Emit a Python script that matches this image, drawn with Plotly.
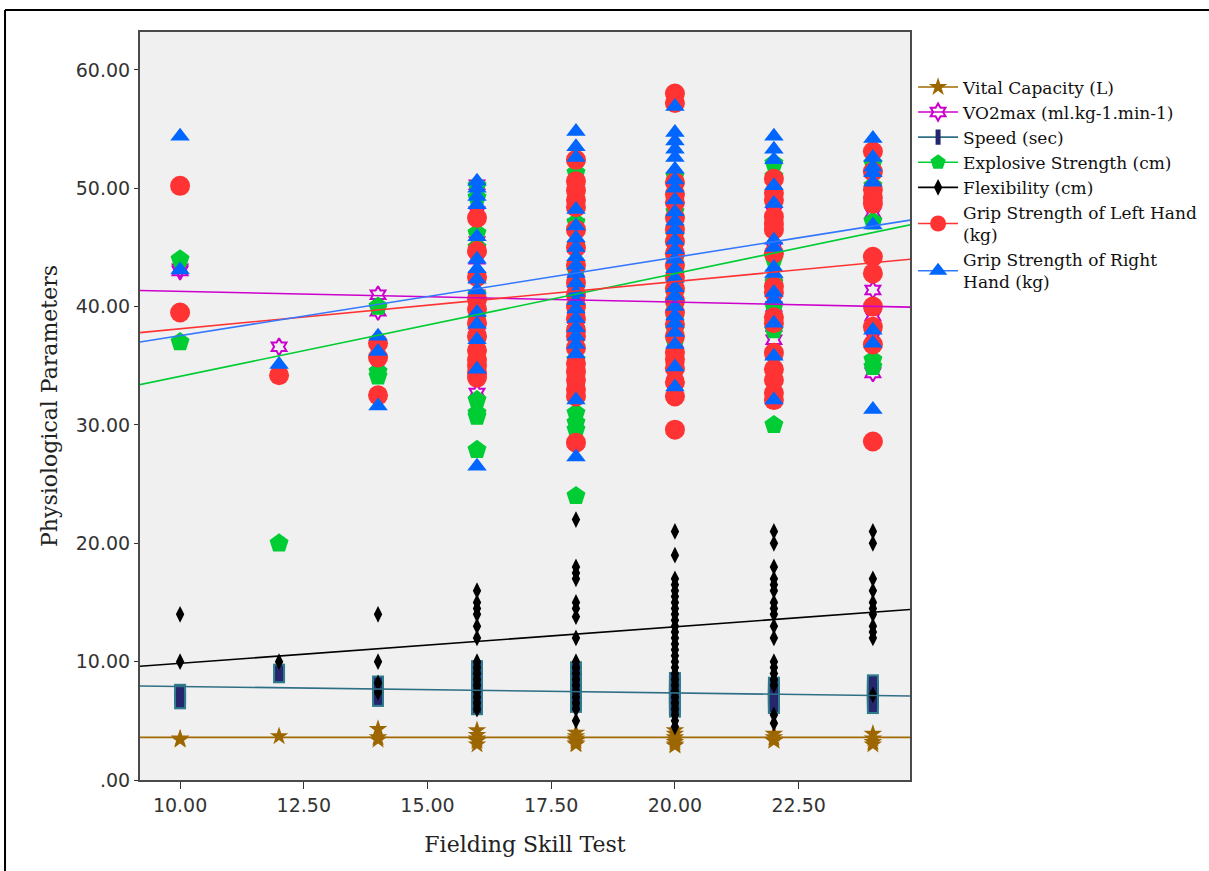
import plotly.graph_objects as go

# ---------------- data ----------------
fielding_levels = [10, 12, 14, 16, 18, 20, 22, 24]

vital_capacity = [
    [3.4, 3.5],
    [3.7],
    [4.3, 3.4, 3.6],
    [4.2, 3.8, 3.5, 3.3, 3.0],
    [4.0, 3.7, 3.5, 3.3, 3.1, 3.0],
    [4.2, 3.9, 3.6, 3.4, 3.2, 3.0, 2.9],
    [3.9, 3.6, 3.4, 3.3],
    [3.9, 3.5, 3.2, 3.0],
]

vo2max = [
    [43.0, 43.2],
    [36.6],
    [41.0, 39.6, 35.0],
    [50.3, 48.0, 45.5, 44.0, 42.5, 41.0, 40.0, 38.5, 37.5, 36.0, 35.0, 32.7],
    [50.0, 47.0, 45.0, 43.0, 42.0, 41.0, 40.0, 39.0, 38.0, 37.0, 36.0, 34.5, 33.0],
    [50.0, 47.0, 45.0, 43.0, 42.0, 41.0, 40.0, 39.0, 38.0, 37.0, 36.0, 35.0, 34.4, 34.1],
    [48.0, 45.0, 42.0, 40.0, 38.3, 37.2, 36.0],
    [47.9, 41.4, 39.2, 37.5, 34.4],
]

speed = [
    [6.8, 7.3],
    [9.0],
    [8.0, 7.5, 7.0],
    [9.3, 9.0, 8.5, 8.0, 7.5, 7.2, 7.0, 6.8, 6.5, 6.3],
    [9.2, 8.8, 8.3, 8.0, 7.6, 7.2, 7.0, 6.8, 6.5],
    [8.3, 8.0, 7.6, 7.3, 7.0, 6.7, 6.4, 6.1],
    [7.9, 7.5, 7.2, 6.9, 6.6, 6.4],
    [8.1, 7.6, 7.2, 6.8, 6.4],
]

explosive_strength = [
    [44.0, 37.0],
    [20.0],
    [40.0, 34.1, 34.5],
    [50.2, 49.2, 46.2, 45.0, 41.0, 39.0, 36.0, 32.1, 31.0, 30.7, 27.9],
    [51.3, 47.1, 45.0, 43.0, 42.0, 40.0, 38.0, 36.5, 35.5, 31.0, 30.2, 29.6, 24.0],
    [51.0, 48.0, 46.0, 44.0, 43.0, 42.0, 41.0, 40.0, 39.0, 38.0, 37.0, 36.0, 35.0],
    [52.1, 51.0, 47.0, 44.0, 42.0, 40.0, 38.0, 36.0, 30.0],
    [52.1, 50.2, 47.2, 35.5, 34.9],
]

flexibility = [
    [14.0, 10.0],
    [10.0],
    [14.0, 10.0, 8.2, 7.4],
    [16.0, 15.0, 14.5, 14.0, 13.0, 12.0, 10.0, 9.5, 9.0, 8.5, 8.0, 7.5, 7.0, 6.5, 6.0],
    [22.0, 18.0, 17.5, 17.0, 15.0, 14.5, 13.8, 12.0, 10.0, 9.5, 9.0, 8.5, 8.0, 7.5, 7.0, 6.5, 6.0, 5.0],
    [21.0, 19.0, 17.0, 16.5, 16.0, 15.5, 15.0, 14.5, 14.0, 13.5, 13.0, 12.5, 12.0, 11.5, 11.0,
     10.5, 10.0, 9.5, 9.0, 8.5, 8.0, 7.5, 7.0, 6.5, 6.0, 5.5, 5.0, 4.5],
    [21.0, 20.0, 18.0, 17.0, 16.5, 16.0, 15.0, 14.5, 14.0, 13.0, 12.0, 10.0, 9.5, 9.0, 8.5, 8.0, 5.5, 4.8],
    [21.0, 20.0, 17.0, 16.0, 15.0, 14.5, 14.0, 13.0, 12.5, 12.0, 7.2],
]

grip_left = [
    [50.2, 39.5],
    [34.2],
    [36.9, 35.7, 32.5],
    [47.5, 44.7, 42.5, 40.6, 39.8, 38.6, 37.5, 36.3, 35.5, 35.0, 34.4, 34.0],
    [52.4, 50.6, 49.8, 49.0, 48.4, 46.5, 45.0, 43.5, 42.0, 41.0, 40.0, 39.0, 38.0, 37.5,
     36.5, 35.2, 34.5, 33.8, 33.0, 32.4, 28.5],
    [58.0, 57.2, 50.5, 49.5, 48.8, 47.5, 46.5, 45.5, 44.5, 43.5, 42.5, 41.5, 40.5, 39.5,
     38.5, 37.5, 36.1, 35.5, 34.8, 33.6, 32.4, 29.6],
    [50.8, 49.6, 49.0, 47.6, 47.0, 46.5, 44.5, 41.7, 41.2, 39.1, 38.6, 36.1, 34.7, 33.8, 32.7, 32.1],
    [53.1, 51.4, 49.9, 49.2, 48.7, 44.2, 42.8, 40.0, 38.3, 36.8, 28.6],
]

grip_right = [
    [54.4, 43.1],
    [35.1],
    [37.5, 36.2, 31.6],
    [50.6, 50.0, 49.3, 48.6, 45.9, 44.0, 43.2, 42.3, 41.4, 39.5, 38.5, 37.2, 34.7, 26.5],
    [54.8, 53.5, 52.6, 48.2, 46.8, 45.8, 45.0, 44.2, 43.5, 42.8, 42.0, 41.2, 40.5, 39.8,
     39.0, 38.2, 37.5, 36.8, 36.0, 32.1, 27.3],
    [56.9, 54.7, 54.0, 53.3, 52.6, 51.6, 50.7, 50.0, 49.0, 48.0, 47.2, 46.5, 45.6, 44.8,
     44.0, 43.2, 42.4, 41.6, 40.9, 40.0, 39.2, 38.6, 37.8, 36.8, 34.9, 33.2],
    [54.4, 53.3, 52.4, 50.2, 48.7, 45.6, 45.0, 43.3, 42.8, 41.2, 40.6, 38.6, 35.8, 32.1],
    [54.2, 52.6, 51.8, 51.3, 50.5, 46.9, 38.0, 36.9, 31.3],
]

series_names = [
    "Vital Capacity (L)",
    "VO2max (ml.kg-1.min-1)",
    "Speed (sec)",
    "Explosive Strength (cm)",
    "Flexibility (cm)",
    "Grip Strength of Left Hand<br>(kg)",
    "Grip Strength of Right<br>Hand (kg)",
]

# linear fit lines (intercept, slope)
fit_intercept = [3.6, 42.18, 8.45, 25.43, 6.77, 34.14, 30.92]
fit_slope = [0.0, -0.09, -0.0546, 0.8676, 0.3085, 0.3985, 0.662]

x_tick_values = [10, 12.5, 15, 17.5, 20, 22.5]
y_tick_values = [0, 10, 20, 30, 40, 50, 60]
x_range = [9.19, 24.75]
y_range = [0, 63.2]

# ---------------- styles ----------------
marker_styles = [
    dict(symbol="star", size=14, color="#9c6600", line=dict(width=0)),
    dict(symbol="hexagram-open", size=13, color="#cc00cc", line=dict(width=2, color="#cc00cc")),
    dict(symbol="line-ns-open", size=11, color="#26266e", line=dict(width=8, color="#26266e")),
    dict(symbol="pentagon", size=20, color="#00cc33", line=dict(width=0)),
    dict(symbol="diamond-tall", size=12, color="#000000", line=dict(width=0)),
    dict(symbol="circle", size=20, color="#ff3333", line=dict(width=0)),
    dict(symbol="triangle-up", size=17, color="#0066ff", line=dict(width=0)),
]
line_colors = ["#a06a00", "#cc00cc", "#2f6f86", "#00cc33", "#000000", "#ff3333", "#3377ff"]

all_series = [vital_capacity, vo2max, speed, explosive_strength, flexibility, grip_left, grip_right]

fig = go.Figure()


def flatten(series):
    xs, ys = [], []
    for lvl, vals in zip(fielding_levels, series):
        for v in vals:
            xs.append(lvl)
            ys.append(v)
    return xs, ys


# scatter markers (later series drawn on top)
for i, series in enumerate(all_series):
    xs, ys = flatten(series)
    if i == 2:
        # teal outline under the speed rectangles
        fig.add_trace(go.Scatter(
            x=xs, y=ys, mode="markers", showlegend=False, hoverinfo="skip",
            marker=dict(symbol="line-ns-open", size=14, color="#2f7c8c",
                        line=dict(width=12, color="#2f7c8c"))))
    fig.add_trace(go.Scatter(x=xs, y=ys, mode="markers", showlegend=False,
                             name=series_names[i], marker=marker_styles[i]))

# fit lines on top (they also carry the legend entries)
span = [x_range[0] - 1, x_range[1] + 1]
for i in range(len(all_series)):
    ys = [fit_intercept[i] + fit_slope[i] * x for x in span]
    fig.add_trace(go.Scatter(
        x=span, y=ys, mode="lines+markers", name=series_names[i],
        line=dict(color=line_colors[i], width=1.6),
        marker=marker_styles[i], cliponaxis=True, hoverinfo="skip"))


def fmt(v):
    s = f"{v:.2f}"
    return s[1:] if s.startswith("0.") else s


axis_font = dict(family="DejaVu Sans", size=19, color="#333333")
fig.update_xaxes(
    range=x_range, tickvals=x_tick_values, ticktext=[fmt(v) for v in x_tick_values],
    showgrid=False, zeroline=False, showline=True, mirror=True,
    linecolor="#4a4a4a", linewidth=2, ticks="outside", ticklen=7, tickcolor="#333333",
    tickfont=axis_font,
    title=dict(text="Fielding Skill Test", font=dict(family="DejaVu Serif", size=22, color="#222222"),
               standoff=22),
)
fig.update_yaxes(
    range=y_range, tickvals=y_tick_values, ticktext=[fmt(v) for v in y_tick_values],
    showgrid=False, zeroline=False, showline=True, mirror=True,
    linecolor="#4a4a4a", linewidth=2, ticks="outside", ticklen=4, tickcolor="#333333",
    tickfont=axis_font,
    title=dict(text="Physiological Parameters", font=dict(family="DejaVu Serif", size=22, color="#222222"),
               standoff=12),
)

fig.update_layout(
    width=1209, height=871,
    margin=dict(l=140, r=299, t=32, b=91, autoexpand=False),
    paper_bgcolor="white", plot_bgcolor="#f0f0f0",
    legend=dict(x=1.004, y=0.95, xanchor="left", yanchor="top",
                font=dict(family="DejaVu Serif", size=17, color="#111111"),
                bgcolor="rgba(0,0,0,0)", itemwidth=40, tracegroupgap=0),
    shapes=[
        dict(type="line", xref="paper", yref="paper", x0=-0.1753, x1=-0.1753, y0=-0.2, y1=1.0294,
             line=dict(color="black", width=2)),
        dict(type="line", xref="paper", yref="paper", x0=-0.1753, x1=1.5, y0=1.0294, y1=1.0294,
             line=dict(color="black", width=2)),
    ],
)

fig.write_html("out.html", config={"displayModeBar": False},
               post_script="document.body.style.margin='0';document.body.style.overflow='hidden';")
